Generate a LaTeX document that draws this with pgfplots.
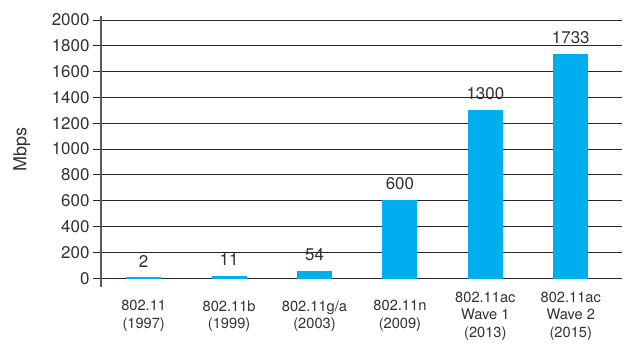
\documentclass[border=0pt]{standalone}
\usepackage{pgfplots}
\pgfplotsset{compat=1.18}
\usepackage{fontspec}
\setmainfont{TeX Gyre Heros}
\definecolor{barblue}{RGB}{0,174,239}
\definecolor{txt}{RGB}{50,50,50}
\begin{document}
\begin{tikzpicture}
\begin{axis}[
  at={(101bp,58bp)}, anchor=south west,
  scale only axis, width=521bp, height=271bp,
  xmin=-0.5, xmax=5.6, ymin=-68, ymax=2031,
  axis x line=bottom,
  x axis line style={draw=none},
  xtick style={draw=none},
  axis y line*=left,
  y axis line style={draw=black!65, line width=1.3bp, -},
  ytick={0,200,...,2000},
  tick align=outside, major tick length=8bp,
  ytick style={draw=black!85, line width=0.9bp},
  ymajorgrids, grid style={draw=black!85, line width=0.9bp},
  xtick=data,
  xticklabels={{802.11\\(1997)},{802.11b\\(1999)},{802.11g/a\\(2003)},{802.11n\\(2009)},{802.11ac\\Wave 1\\(2013)},{802.11ac\\Wave 2\\(2015)}},
  xticklabel style={align=center, anchor=center, yshift=-21bp, font=\fontsize{14.7}{17.5}\selectfont, text=txt},
  /pgf/number format/assume math mode=true,
  /pgf/number format/set thousands separator={},
  yticklabel style={font=\fontsize{17}{20}\selectfont, text=txt},
  ylabel={Mbps},
  ylabel style={at={(axis description cs:-0.152,0.507)}, anchor=center, font=\fontsize{18}{21}\selectfont, text=txt},
  ybar, bar width=34bp,
  nodes near coords,
  nodes near coords style={font=\fontsize{17}{20}\selectfont, text=txt, anchor=south, yshift=7bp},
]
\addplot[fill=barblue, draw=barblue, line width=1bp] coordinates {(0,2) (1,11) (2,54) (3,600) (4,1300) (5,1733)};
\end{axis}
\pgfresetboundingbox
\path (0,0) rectangle (640bp,345bp);
\end{tikzpicture}
\end{document}
